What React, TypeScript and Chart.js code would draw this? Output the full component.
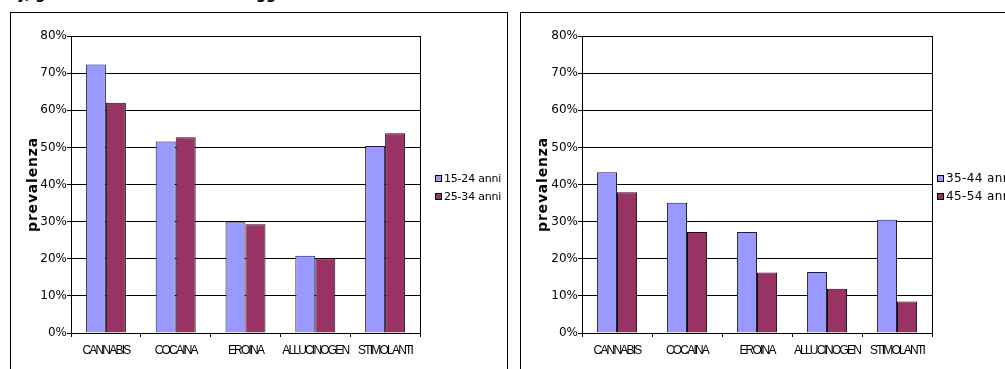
import React, { useEffect, useRef } from 'react';
import { Chart, registerables } from 'chart.js';

Chart.register(...registerables);

// ---- data ----
const categories = ['CANNABIS', 'COCAINA', 'EROINA', 'ALLUCINOGEN', 'STIMOLANTI'];
const leftSeriesNames = ['15-24 anni', '25-34 anni'];
const rightSeriesNames = ['35-44 anni', '45-54 anni'];
const prev15_24 = [72.3, 51.6, 29.8, 20.8, 50.4];
const prev25_34 = [62.0, 52.7, 29.3, 20.1, 53.8];
const prev35_44 = [43.3, 35.1, 27.2, 16.4, 30.5];
const prev45_54 = [37.9, 27.2, 16.3, 11.9, 8.5];
const yMin = 0;
const yMax = 80;
const yStep = 10;
const yTitle = 'prevalenza';
const headerText = 'y, genere e classi di età dei soggetti in trattamento';
const seriesColors = ['#9999FF', '#993366'];

function patchLetterSpacing(ctx: any) {
  if (!ctx || ctx.__lsPatched) return;
  ctx.__lsPatched = true;
  const orig = ctx.fillText;
  ctx.fillText = function (text: string, x: number, y: number, maxWidth?: number) {
    const f: string = this.font || '';
    let ls = '0px';
    if (f.indexOf('bold') >= 0) ls = '0.8px';
    else if (f.indexOf('Liberation Sans') >= 0) ls = '-1.8px';
    this.letterSpacing = ls;
    if (maxWidth === undefined) orig.call(this, text, x, y);
    else orig.call(this, text, x, y, maxWidth);
    this.letterSpacing = '0px';
  };
}

type PanelProps = {
  left: number;
  top: number;
  canvasWidth: number;
  canvasHeight: number;
  axisWidth: number;
  plotTop: number;
  plotBottom: number;
  rightPad: number;
  names: string[];
  a: number[];
  b: number[];
};

function BarPanel(p: PanelProps) {
  const ref = useRef<HTMLCanvasElement | null>(null);
  useEffect(() => {
    const canvas = ref.current;
    if (!canvas) return;
    const ctx = canvas.getContext('2d');
    patchLetterSpacing(ctx);
    const xAxisHeight = 30;
    const chart = new Chart(canvas, {
      type: 'bar',
      data: {
        labels: categories,
        datasets: [
          {
            label: p.names[0],
            data: p.a,
            backgroundColor: seriesColors[0],
            borderColor: '#222',
            borderWidth: 1,
            categoryPercentage: 0.573,
            barPercentage: 1,
          },
          {
            label: p.names[1],
            data: p.b,
            backgroundColor: seriesColors[1],
            borderColor: '#111',
            borderWidth: 1,
            categoryPercentage: 0.573,
            barPercentage: 1,
          },
        ],
      },
      options: {
        animation: false,
        responsive: false,
        maintainAspectRatio: false,
        devicePixelRatio: 1,
        layout: {
          padding: {
            left: 0,
            top: p.plotTop,
            right: p.rightPad,
            bottom: p.canvasHeight - p.plotBottom - xAxisHeight,
          },
        },
        plugins: {
          legend: { display: false },
          tooltip: { enabled: false },
          title: { display: false },
        },
        scales: {
          x: {
            offset: true,
            grid: {
              display: true,
              drawOnChartArea: false,
              drawTicks: true,
              tickLength: 4,
              color: '#000',
              offset: true,
            },
            border: { display: true, color: '#000', width: 1 },
            ticks: {
              color: '#000',
              padding: 6,
              maxRotation: 0,
              autoSkip: false,
              font: { family: "'Liberation Sans', Arial, sans-serif", size: 12 },
            },
            afterFit: (scale: any) => {
              scale.height = xAxisHeight;
            },
          },
          y: {
            min: yMin,
            max: yMax,
            grid: {
              color: '#000',
              lineWidth: 1,
              drawTicks: true,
              tickLength: 4,
            },
            border: { display: true, color: '#000', width: 1 },
            ticks: {
              stepSize: yStep,
              padding: 0,
              color: '#000',
              font: { family: "'DejaVu Sans', Verdana, sans-serif", size: 12 },
              callback: (v: any) => `${v}%`,
            },
            title: {
              display: true,
              text: yTitle,
              color: '#000',
              font: { family: "'DejaVu Sans', Verdana, sans-serif", size: 14, weight: 'bold' },
              padding: { top: 13.5, bottom: 0 },
            },
            afterFit: (scale: any) => {
              scale.width = p.axisWidth;
            },
          },
          yRight: {
            position: 'right',
            min: yMin,
            max: yMax,
            grid: { display: false, drawTicks: false },
            ticks: { display: false },
            border: { display: true, color: '#000', width: 1 },
            afterFit: (scale: any) => {
              scale.width = 0;
            },
          },
        },
      } as any,
    });
    return () => {
      chart.destroy();
    };
  }, []);
  return (
    <canvas
      ref={ref}
      width={p.canvasWidth}
      height={p.canvasHeight}
      style={{
        position: 'absolute',
        left: p.left,
        top: p.top,
        width: p.canvasWidth,
        height: p.canvasHeight,
      }}
    />
  );
}

function Legend({
  left,
  top,
  names,
  fontSize,
  spacing,
}: {
  left: number;
  top: number;
  names: string[];
  fontSize: number;
  spacing: string;
}) {
  return (
    <div style={{ position: 'absolute', left, top }}>
      {names.map((n, i) => (
        <div
          key={n}
          style={{
            position: 'absolute',
            left: 0,
            top: i * 18,
            height: 14,
            display: 'flex',
            alignItems: 'center',
            whiteSpace: 'nowrap',
            fontFamily: "'DejaVu Sans', Verdana, sans-serif",
            fontSize,
            letterSpacing: spacing,
            color: '#000',
          }}
        >
          <span
            style={{
              display: 'inline-block',
              width: 7,
              height: 7,
              boxSizing: 'border-box',
              border: '1px solid #000',
              background: seriesColors[i],
              marginRight: 2,
            }}
          />
          <span>{n}</span>
        </div>
      ))}
    </div>
  );
}

export default function App() {
  return (
    <div
      style={{
        position: 'absolute',
        left: 0,
        top: 0,
        width: 1005,
        height: 369,
        overflow: 'hidden',
        background: '#fff',
      }}
    >
      <div
        style={{
          position: 'absolute',
          left: 17,
          top: -14,
          whiteSpace: 'nowrap',
          fontFamily: "'DejaVu Sans', Verdana, sans-serif",
          fontWeight: 'bold',
          fontSize: 14,
          lineHeight: '16px',
          color: '#000',
        }}
      >
        {headerText}
      </div>
      <div
        style={{
          position: 'absolute',
          left: 10,
          top: 12,
          width: 498,
          height: 400,
          boxSizing: 'border-box',
          border: '1px solid #000',
        }}
      />
      <div
        style={{
          position: 'absolute',
          left: 520,
          top: 12,
          width: 600,
          height: 400,
          boxSizing: 'border-box',
          border: '1px solid #000',
        }}
      />
      <BarPanel
        left={11}
        top={13}
        canvasWidth={429}
        canvasHeight={356}
        axisWidth={60}
        plotTop={23}
        plotBottom={320}
        rightPad={20}
        names={leftSeriesNames}
        a={prev15_24}
        b={prev25_34}
      />
      <Legend left={435} top={171} names={leftSeriesNames} fontSize={11} spacing="-0.2px" />
      <BarPanel
        left={521}
        top={13}
        canvasWidth={431}
        canvasHeight={356}
        axisWidth={61}
        plotTop={23}
        plotBottom={320}
        rightPad={20}
        names={rightSeriesNames}
        a={prev35_44}
        b={prev45_54}
      />
      <Legend left={937} top={171} names={rightSeriesNames} fontSize={12} spacing="0.4px" />
    </div>
  );
}
